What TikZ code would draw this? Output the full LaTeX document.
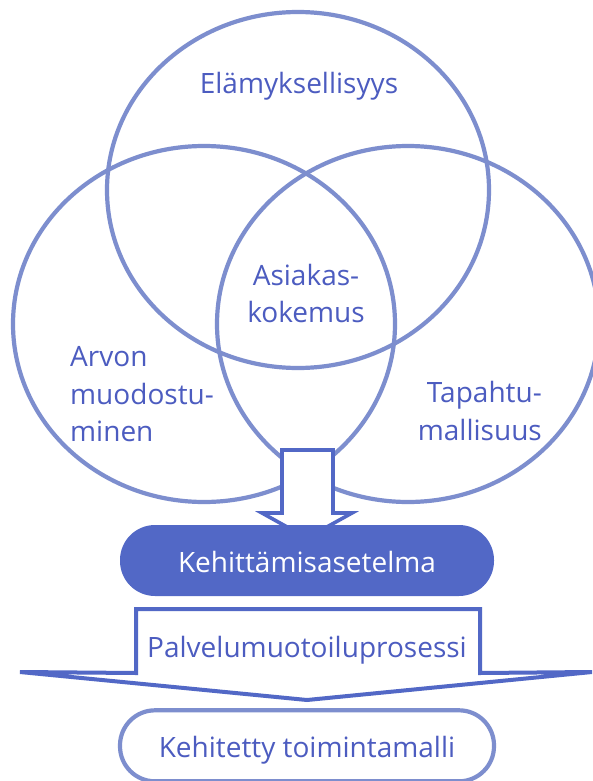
\documentclass[tikz,border=0pt]{standalone}
\usepackage{fontspec}
\setmainfont{Open Sans}
\usepackage{tikz}
\usetikzlibrary{positioning,shapes.geometric}
\definecolor{ringblue}{RGB}{125,142,206}
\definecolor{inkblue}{RGB}{76,92,192}
\definecolor{fillblue}{RGB}{82,104,198}

\begin{document}
\begin{tikzpicture}[x=1pt,y=-1pt]
	\fill[white] (0,0) rectangle (592,781);
	\useasboundingbox (0,0) rectangle (592,781);

	\begin{scope}[every node/.style={ellipse,draw=ringblue,line width=4.2pt,minimum width=382pt,minimum height=356pt,inner sep=0pt}]
		\node (E) at (298,190) {};
		\node (A) at (204,324) {};
		\node (T) at (408,324) {};
	\end{scope}

	\begin{scope}[every node/.style={text=inkblue,inner sep=0pt,font=\fontsize{28}{37.5}\selectfont}]
		\node[anchor=base] (Etxt) at (299,94) {Elämyksellisyys};
		\node[align=center] (Ktxt) at (306,293.5) {Asiakas-\\kokemus};
		\node[align=left,anchor=west] (Atxt) at (70,394.5) {Arvon\\muodostu-\\minen};
		\node[align=right,anchor=east] (Ttxt) at (542,411) {Tapahtu-\\mallisuus};
	\end{scope}

	\draw[fillblue,line width=3.6pt,fill=white] (282,450) -- (333,450) -- (333,513) -- (352,513) -- (307,538) -- (262,513) -- (282,513) -- cycle;

	\begin{scope}[every node/.style={rectangle,rounded corners=35pt,minimum width=374pt,minimum height=71pt,text height=23pt,text depth=0pt,font=\fontsize{28}{37.5}\selectfont}]
		\node[fill=fillblue,text=white] (plan) at (307,560.5) {Kehittämisasetelma};
		\node[draw=ringblue,line width=4.2pt,text=inkblue,below =112pt of plan] (malli) {Kehitetty toimintamalli};
	\end{scope}

	\draw[fillblue,line width=4pt,fill=white] (136,609) -- (480,609) -- (480,673) -- (592,672) -- (307,700) -- (20,672) -- (136,673) -- cycle;
	\node[anchor=base,text=inkblue,inner sep=0pt,font=\fontsize{28}{37.5}\selectfont] (proc) at (307,657) {Palvelumuotoiluprosessi};
\end{tikzpicture}
\end{document}
